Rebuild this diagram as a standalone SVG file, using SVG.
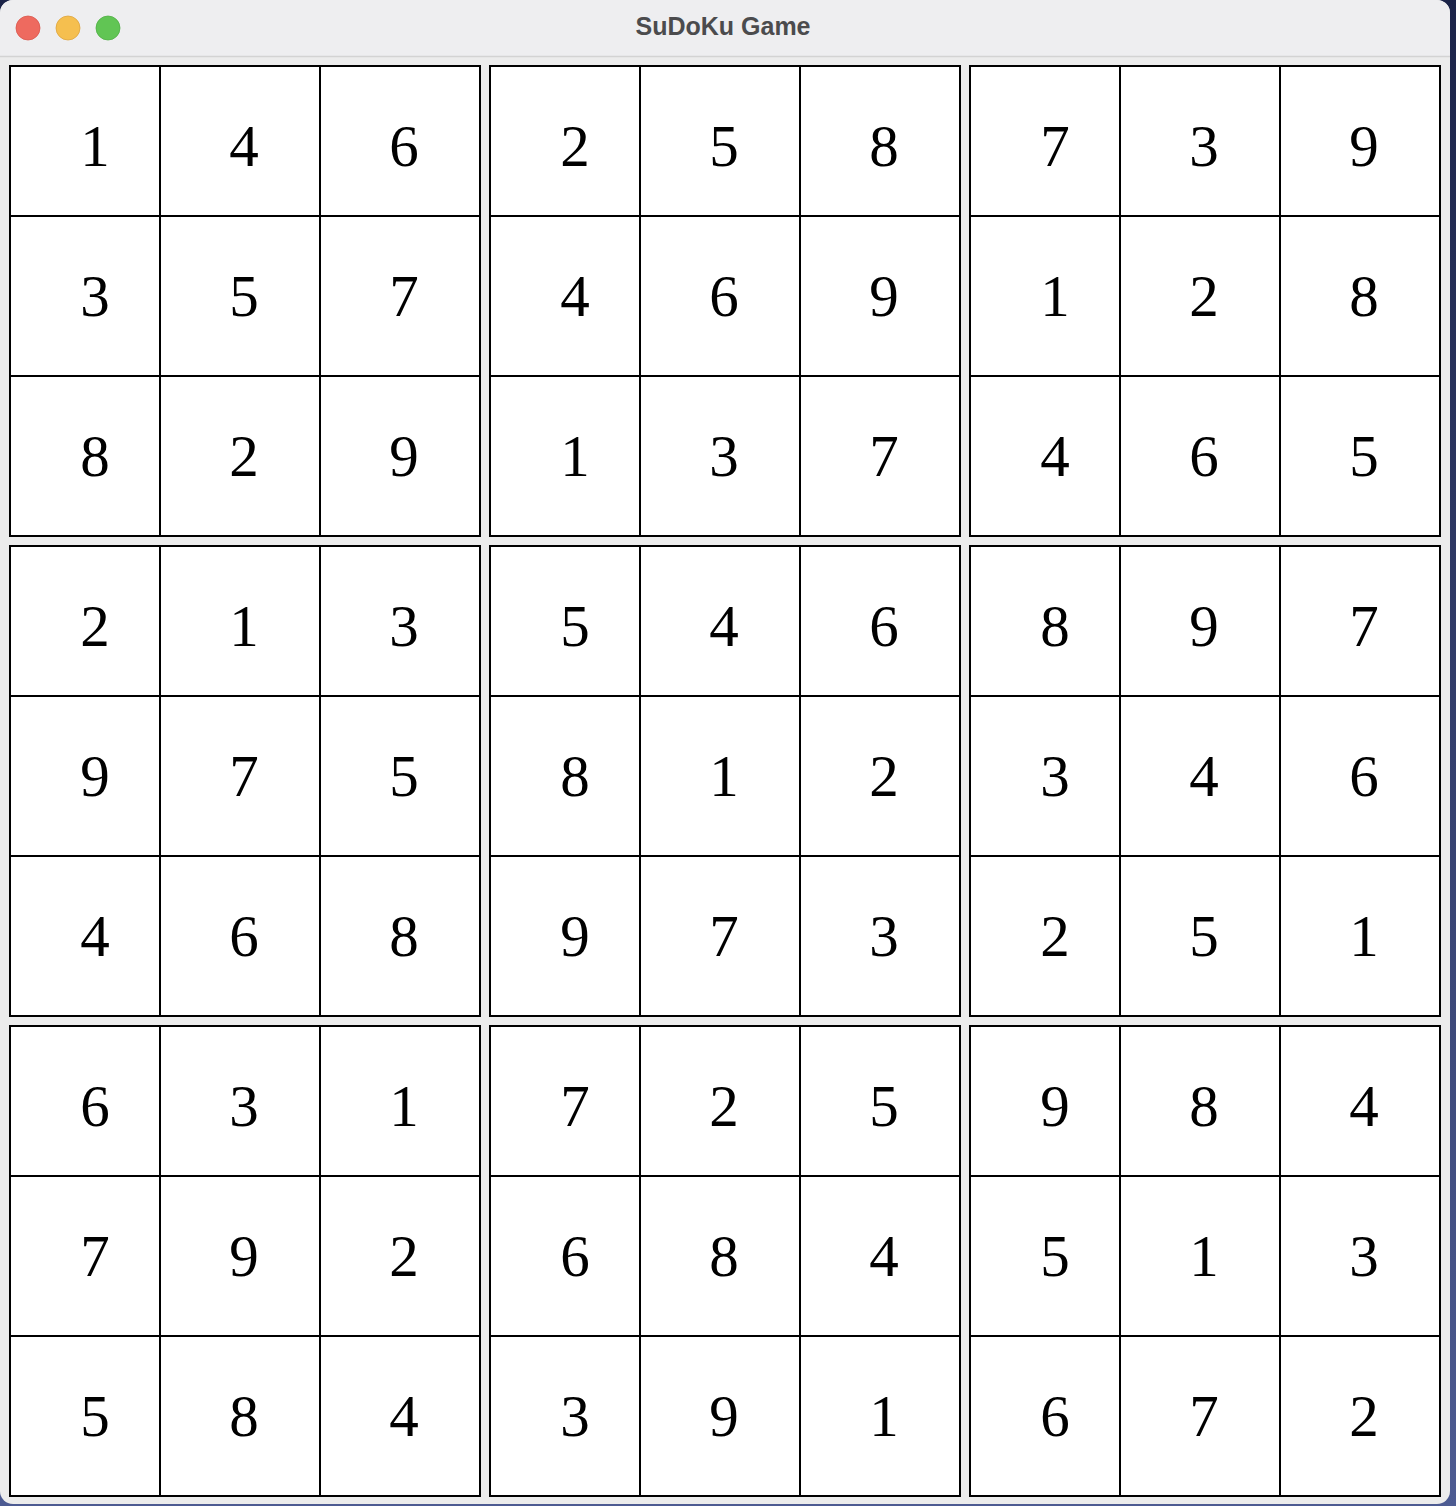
<svg xmlns="http://www.w3.org/2000/svg" width="1456" height="1506" viewBox="0 0 1456 1506">
<style>
.cell{fill:#ffffff;stroke:#000000;stroke-width:2}
.d{font-family:"Liberation Serif","Times New Roman",serif;font-size:59px;fill:#000000;text-anchor:middle}
.title{font-family:"Liberation Sans","Helvetica",Arial,sans-serif;font-weight:bold;font-size:25px;fill:#4b4b4d;text-anchor:middle}
</style>
<defs>
<linearGradient id="bg" x1="0" y1="0" x2="0" y2="1">
<stop offset="0" stop-color="#1b2348"/>
<stop offset="1" stop-color="#4d5b92"/>
</linearGradient>
</defs>
<rect x="0" y="0" width="1456" height="1506" fill="url(#bg)"/>
<g id="window">
<rect x="0" y="0" width="1450" height="1504" rx="13" ry="13" fill="#ececec"/>
<path d="M0 13 A13 13 0 0 1 13 0 H1437 A13 13 0 0 1 1450 13 V56 H0 Z" fill="#eeeef0"/>
<line x1="0" y1="56.5" x2="1450" y2="56.5" stroke="#d3d3d3" stroke-width="1.5"/>
<circle cx="28" cy="28" r="12" fill="#ee6a5f" stroke="#d9574c" stroke-width="0.8"/>
<circle cx="68" cy="28" r="12" fill="#f5bf4f" stroke="#dda43d" stroke-width="0.8"/>
<circle cx="108" cy="28" r="12" fill="#61c554" stroke="#4fae44" stroke-width="0.8"/>
<text class="title" x="723" y="35">SuDoKu Game</text>
</g>
<g id="grid">
<g id="cell-1-1"><rect class="cell" x="10" y="66" width="150" height="150"/><text class="d" x="95" y="166">1</text></g>
<g id="cell-1-2"><rect class="cell" x="160" y="66" width="160" height="150"/><text class="d" x="244" y="166">4</text></g>
<g id="cell-1-3"><rect class="cell" x="320" y="66" width="160" height="150"/><text class="d" x="404" y="166">6</text></g>
<g id="cell-1-4"><rect class="cell" x="490" y="66" width="150" height="150"/><text class="d" x="575" y="166">2</text></g>
<g id="cell-1-5"><rect class="cell" x="640" y="66" width="160" height="150"/><text class="d" x="724" y="166">5</text></g>
<g id="cell-1-6"><rect class="cell" x="800" y="66" width="160" height="150"/><text class="d" x="884" y="166">8</text></g>
<g id="cell-1-7"><rect class="cell" x="970" y="66" width="150" height="150"/><text class="d" x="1055" y="166">7</text></g>
<g id="cell-1-8"><rect class="cell" x="1120" y="66" width="160" height="150"/><text class="d" x="1204" y="166">3</text></g>
<g id="cell-1-9"><rect class="cell" x="1280" y="66" width="160" height="150"/><text class="d" x="1364" y="166">9</text></g>

<g id="cell-2-1"><rect class="cell" x="10" y="216" width="150" height="160"/><text class="d" x="95" y="316">3</text></g>
<g id="cell-2-2"><rect class="cell" x="160" y="216" width="160" height="160"/><text class="d" x="244" y="316">5</text></g>
<g id="cell-2-3"><rect class="cell" x="320" y="216" width="160" height="160"/><text class="d" x="404" y="316">7</text></g>
<g id="cell-2-4"><rect class="cell" x="490" y="216" width="150" height="160"/><text class="d" x="575" y="316">4</text></g>
<g id="cell-2-5"><rect class="cell" x="640" y="216" width="160" height="160"/><text class="d" x="724" y="316">6</text></g>
<g id="cell-2-6"><rect class="cell" x="800" y="216" width="160" height="160"/><text class="d" x="884" y="316">9</text></g>
<g id="cell-2-7"><rect class="cell" x="970" y="216" width="150" height="160"/><text class="d" x="1055" y="316">1</text></g>
<g id="cell-2-8"><rect class="cell" x="1120" y="216" width="160" height="160"/><text class="d" x="1204" y="316">2</text></g>
<g id="cell-2-9"><rect class="cell" x="1280" y="216" width="160" height="160"/><text class="d" x="1364" y="316">8</text></g>

<g id="cell-3-1"><rect class="cell" x="10" y="376" width="150" height="160"/><text class="d" x="95" y="476">8</text></g>
<g id="cell-3-2"><rect class="cell" x="160" y="376" width="160" height="160"/><text class="d" x="244" y="476">2</text></g>
<g id="cell-3-3"><rect class="cell" x="320" y="376" width="160" height="160"/><text class="d" x="404" y="476">9</text></g>
<g id="cell-3-4"><rect class="cell" x="490" y="376" width="150" height="160"/><text class="d" x="575" y="476">1</text></g>
<g id="cell-3-5"><rect class="cell" x="640" y="376" width="160" height="160"/><text class="d" x="724" y="476">3</text></g>
<g id="cell-3-6"><rect class="cell" x="800" y="376" width="160" height="160"/><text class="d" x="884" y="476">7</text></g>
<g id="cell-3-7"><rect class="cell" x="970" y="376" width="150" height="160"/><text class="d" x="1055" y="476">4</text></g>
<g id="cell-3-8"><rect class="cell" x="1120" y="376" width="160" height="160"/><text class="d" x="1204" y="476">6</text></g>
<g id="cell-3-9"><rect class="cell" x="1280" y="376" width="160" height="160"/><text class="d" x="1364" y="476">5</text></g>

<g id="cell-4-1"><rect class="cell" x="10" y="546" width="150" height="150"/><text class="d" x="95" y="646">2</text></g>
<g id="cell-4-2"><rect class="cell" x="160" y="546" width="160" height="150"/><text class="d" x="244" y="646">1</text></g>
<g id="cell-4-3"><rect class="cell" x="320" y="546" width="160" height="150"/><text class="d" x="404" y="646">3</text></g>
<g id="cell-4-4"><rect class="cell" x="490" y="546" width="150" height="150"/><text class="d" x="575" y="646">5</text></g>
<g id="cell-4-5"><rect class="cell" x="640" y="546" width="160" height="150"/><text class="d" x="724" y="646">4</text></g>
<g id="cell-4-6"><rect class="cell" x="800" y="546" width="160" height="150"/><text class="d" x="884" y="646">6</text></g>
<g id="cell-4-7"><rect class="cell" x="970" y="546" width="150" height="150"/><text class="d" x="1055" y="646">8</text></g>
<g id="cell-4-8"><rect class="cell" x="1120" y="546" width="160" height="150"/><text class="d" x="1204" y="646">9</text></g>
<g id="cell-4-9"><rect class="cell" x="1280" y="546" width="160" height="150"/><text class="d" x="1364" y="646">7</text></g>

<g id="cell-5-1"><rect class="cell" x="10" y="696" width="150" height="160"/><text class="d" x="95" y="796">9</text></g>
<g id="cell-5-2"><rect class="cell" x="160" y="696" width="160" height="160"/><text class="d" x="244" y="796">7</text></g>
<g id="cell-5-3"><rect class="cell" x="320" y="696" width="160" height="160"/><text class="d" x="404" y="796">5</text></g>
<g id="cell-5-4"><rect class="cell" x="490" y="696" width="150" height="160"/><text class="d" x="575" y="796">8</text></g>
<g id="cell-5-5"><rect class="cell" x="640" y="696" width="160" height="160"/><text class="d" x="724" y="796">1</text></g>
<g id="cell-5-6"><rect class="cell" x="800" y="696" width="160" height="160"/><text class="d" x="884" y="796">2</text></g>
<g id="cell-5-7"><rect class="cell" x="970" y="696" width="150" height="160"/><text class="d" x="1055" y="796">3</text></g>
<g id="cell-5-8"><rect class="cell" x="1120" y="696" width="160" height="160"/><text class="d" x="1204" y="796">4</text></g>
<g id="cell-5-9"><rect class="cell" x="1280" y="696" width="160" height="160"/><text class="d" x="1364" y="796">6</text></g>

<g id="cell-6-1"><rect class="cell" x="10" y="856" width="150" height="160"/><text class="d" x="95" y="956">4</text></g>
<g id="cell-6-2"><rect class="cell" x="160" y="856" width="160" height="160"/><text class="d" x="244" y="956">6</text></g>
<g id="cell-6-3"><rect class="cell" x="320" y="856" width="160" height="160"/><text class="d" x="404" y="956">8</text></g>
<g id="cell-6-4"><rect class="cell" x="490" y="856" width="150" height="160"/><text class="d" x="575" y="956">9</text></g>
<g id="cell-6-5"><rect class="cell" x="640" y="856" width="160" height="160"/><text class="d" x="724" y="956">7</text></g>
<g id="cell-6-6"><rect class="cell" x="800" y="856" width="160" height="160"/><text class="d" x="884" y="956">3</text></g>
<g id="cell-6-7"><rect class="cell" x="970" y="856" width="150" height="160"/><text class="d" x="1055" y="956">2</text></g>
<g id="cell-6-8"><rect class="cell" x="1120" y="856" width="160" height="160"/><text class="d" x="1204" y="956">5</text></g>
<g id="cell-6-9"><rect class="cell" x="1280" y="856" width="160" height="160"/><text class="d" x="1364" y="956">1</text></g>

<g id="cell-7-1"><rect class="cell" x="10" y="1026" width="150" height="150"/><text class="d" x="95" y="1126">6</text></g>
<g id="cell-7-2"><rect class="cell" x="160" y="1026" width="160" height="150"/><text class="d" x="244" y="1126">3</text></g>
<g id="cell-7-3"><rect class="cell" x="320" y="1026" width="160" height="150"/><text class="d" x="404" y="1126">1</text></g>
<g id="cell-7-4"><rect class="cell" x="490" y="1026" width="150" height="150"/><text class="d" x="575" y="1126">7</text></g>
<g id="cell-7-5"><rect class="cell" x="640" y="1026" width="160" height="150"/><text class="d" x="724" y="1126">2</text></g>
<g id="cell-7-6"><rect class="cell" x="800" y="1026" width="160" height="150"/><text class="d" x="884" y="1126">5</text></g>
<g id="cell-7-7"><rect class="cell" x="970" y="1026" width="150" height="150"/><text class="d" x="1055" y="1126">9</text></g>
<g id="cell-7-8"><rect class="cell" x="1120" y="1026" width="160" height="150"/><text class="d" x="1204" y="1126">8</text></g>
<g id="cell-7-9"><rect class="cell" x="1280" y="1026" width="160" height="150"/><text class="d" x="1364" y="1126">4</text></g>

<g id="cell-8-1"><rect class="cell" x="10" y="1176" width="150" height="160"/><text class="d" x="95" y="1276">7</text></g>
<g id="cell-8-2"><rect class="cell" x="160" y="1176" width="160" height="160"/><text class="d" x="244" y="1276">9</text></g>
<g id="cell-8-3"><rect class="cell" x="320" y="1176" width="160" height="160"/><text class="d" x="404" y="1276">2</text></g>
<g id="cell-8-4"><rect class="cell" x="490" y="1176" width="150" height="160"/><text class="d" x="575" y="1276">6</text></g>
<g id="cell-8-5"><rect class="cell" x="640" y="1176" width="160" height="160"/><text class="d" x="724" y="1276">8</text></g>
<g id="cell-8-6"><rect class="cell" x="800" y="1176" width="160" height="160"/><text class="d" x="884" y="1276">4</text></g>
<g id="cell-8-7"><rect class="cell" x="970" y="1176" width="150" height="160"/><text class="d" x="1055" y="1276">5</text></g>
<g id="cell-8-8"><rect class="cell" x="1120" y="1176" width="160" height="160"/><text class="d" x="1204" y="1276">1</text></g>
<g id="cell-8-9"><rect class="cell" x="1280" y="1176" width="160" height="160"/><text class="d" x="1364" y="1276">3</text></g>

<g id="cell-9-1"><rect class="cell" x="10" y="1336" width="150" height="160"/><text class="d" x="95" y="1436">5</text></g>
<g id="cell-9-2"><rect class="cell" x="160" y="1336" width="160" height="160"/><text class="d" x="244" y="1436">8</text></g>
<g id="cell-9-3"><rect class="cell" x="320" y="1336" width="160" height="160"/><text class="d" x="404" y="1436">4</text></g>
<g id="cell-9-4"><rect class="cell" x="490" y="1336" width="150" height="160"/><text class="d" x="575" y="1436">3</text></g>
<g id="cell-9-5"><rect class="cell" x="640" y="1336" width="160" height="160"/><text class="d" x="724" y="1436">9</text></g>
<g id="cell-9-6"><rect class="cell" x="800" y="1336" width="160" height="160"/><text class="d" x="884" y="1436">1</text></g>
<g id="cell-9-7"><rect class="cell" x="970" y="1336" width="150" height="160"/><text class="d" x="1055" y="1436">6</text></g>
<g id="cell-9-8"><rect class="cell" x="1120" y="1336" width="160" height="160"/><text class="d" x="1204" y="1436">7</text></g>
<g id="cell-9-9"><rect class="cell" x="1280" y="1336" width="160" height="160"/><text class="d" x="1364" y="1436">2</text></g>
</g>
</svg>
